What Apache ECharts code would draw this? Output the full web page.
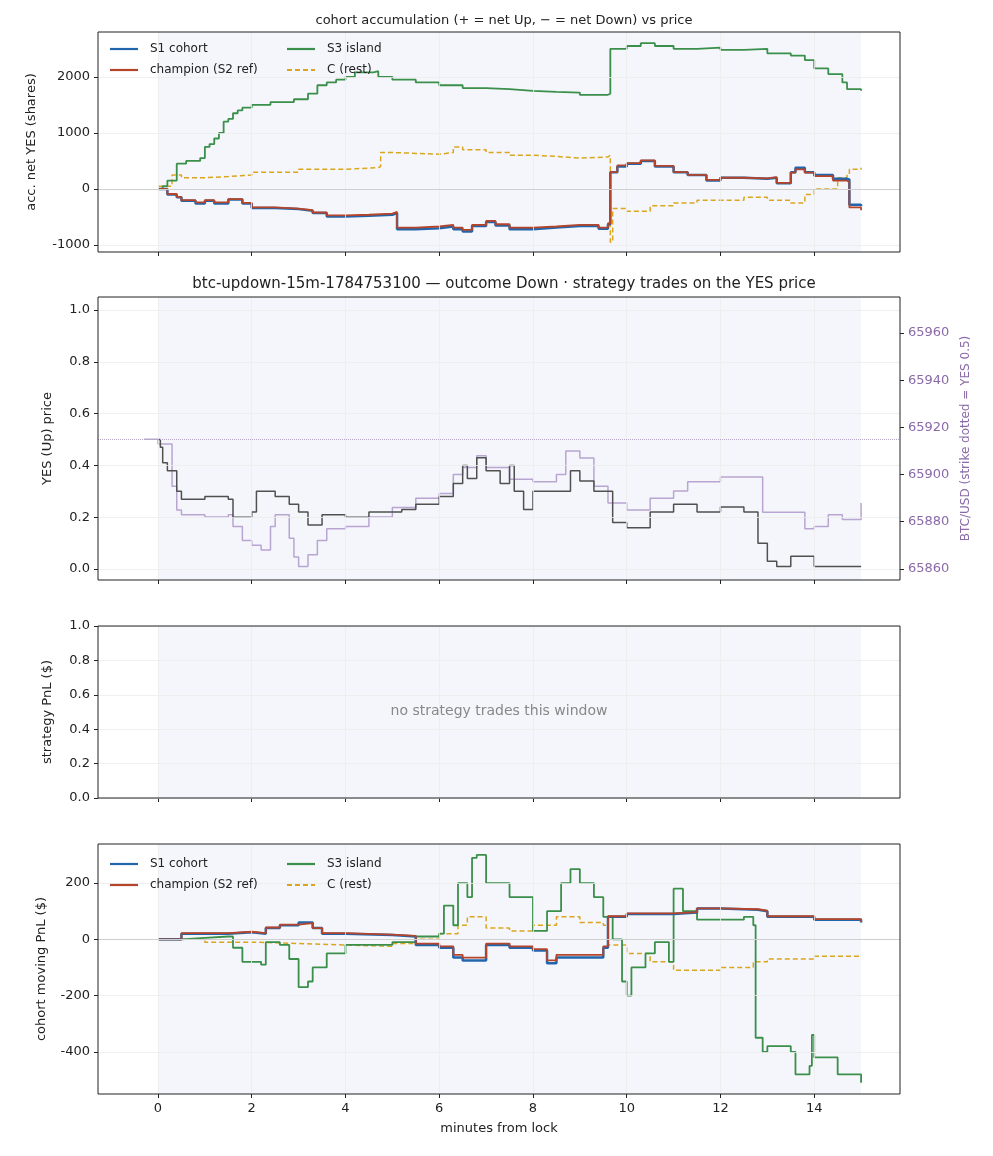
<!DOCTYPE html><html><head><meta charset="utf-8">
<script src="https://cdn.jsdelivr.net/npm/echarts@6/dist/echarts.min.js"></script>
<style>body{margin:0}#c{width:993px;height:1156px}</style></head><body><div id="c"></div>
<script>
const xTicks=[0,2,4,6,8,10,12,14];
const accS3=[[0,0],[0.1,50],[0.2,150],[0.4,450],[0.6,500],[0.9,550],[1.0,750],[1.1,800],[1.2,900],[1.3,1000],[1.4,1200],[1.5,1250],[1.6,1350],[1.7,1400],[1.8,1450],[2.0,1500],[2.4,1550],[2.9,1600],[3.2,1700],[3.4,1850],[3.6,1900],[3.8,1950],[4.0,2000],[4.2,2080],[4.6,2100],[4.7,2000],[5.0,1950],[5.5,1900],[6.0,1850],[6.5,1800],[7.0,1780],[7.5,1750],[8.0,1730],[8.5,1720],[9.0,1680],[9.6,1700],[9.65,2500],[10.0,2550],[10.3,2600],[10.6,2550],[11.0,2500],[11.5,2520],[12.0,2480],[12.5,2500],[13.0,2420],[13.5,2380],[13.8,2300],[14.0,2150],[14.3,2050],[14.6,1900],[14.7,1780],[15.0,1750]];
const accS1=[[0,0],[0.2,-100],[0.4,-150],[0.5,-210],[0.8,-260],[1.0,-210],[1.2,-260],[1.5,-190],[1.8,-260],[2.0,-340],[2.5,-360],[3.0,-390],[3.3,-430],[3.6,-490],[4.0,-480],[4.5,-460],[5.0,-430],[5.1,-720],[5.5,-700],[6.0,-670],[6.3,-720],[6.5,-760],[6.7,-660],[7.0,-590],[7.2,-650],[7.5,-720],[8.0,-690],[8.5,-660],[9.0,-660],[9.4,-710],[9.6,-630],[9.65,300],[9.8,400],[10.0,450],[10.3,500],[10.6,400],[11.0,300],[11.3,250],[11.7,150],[12.0,200],[12.5,180],[13.0,200],[13.2,100],[13.5,300],[13.6,380],[13.8,300],[14.0,250],[14.4,180],[14.7,170],[14.75,-280],[15.0,-310]];
const accChamp=[[0,0],[0.2,-90],[0.4,-140],[0.5,-200],[0.8,-240],[1.0,-200],[1.2,-240],[1.5,-180],[1.8,-250],[2.0,-330],[2.5,-350],[3.0,-380],[3.3,-420],[3.6,-470],[4.0,-460],[4.5,-440],[5.0,-410],[5.1,-690],[5.5,-670],[6.0,-640],[6.3,-690],[6.5,-730],[6.7,-640],[7.0,-570],[7.2,-630],[7.5,-690],[8.0,-670],[8.5,-640],[9.0,-640],[9.4,-690],[9.6,-610],[9.65,300],[9.8,420],[10.0,460],[10.3,510],[10.6,410],[11.0,300],[11.3,250],[11.7,160],[12.0,200],[12.5,190],[13.0,210],[13.2,110],[13.5,290],[13.6,350],[13.8,290],[14.0,230],[14.4,150],[14.7,120],[14.75,-330],[15.0,-380]];
const accC=[[0,50],[0.3,250],[0.5,200],[1.0,220],[1.5,250],[2.0,300],[3.0,350],[4.0,380],[4.7,400],[4.75,650],[5.0,620],[6.0,650],[6.3,750],[6.5,700],[7.0,650],[7.5,600],[8.0,580],[8.5,550],[9.0,570],[9.6,600],[9.65,-950],[9.7,-350],[10.0,-400],[10.5,-300],[11.0,-250],[11.5,-200],[12.0,-200],[12.5,-150],[13.0,-200],[13.5,-250],[13.8,-100],[14.0,0],[14.5,200],[14.7,250],[14.75,350],[15.0,380]];
const yesPrice=[[0,0.5],[0.05,0.47],[0.1,0.41],[0.2,0.38],[0.4,0.3],[0.5,0.27],[1.0,0.28],[1.5,0.27],[1.6,0.2],[2.0,0.22],[2.1,0.3],[2.5,0.28],[2.8,0.25],[3.0,0.22],[3.2,0.17],[3.5,0.21],[4.0,0.2],[4.5,0.22],[5.0,0.22],[5.2,0.23],[5.5,0.25],[6.0,0.28],[6.3,0.33],[6.5,0.4],[6.6,0.35],[6.8,0.43],[7.0,0.38],[7.3,0.33],[7.5,0.4],[7.6,0.3],[7.8,0.23],[8.0,0.3],[8.5,0.3],[8.8,0.38],[9.0,0.34],[9.3,0.3],[9.6,0.3],[9.7,0.18],[10.0,0.16],[10.5,0.22],[11.0,0.25],[11.5,0.22],[12.0,0.24],[12.5,0.22],[12.8,0.1],[13.0,0.03],[13.2,0.01],[13.5,0.05],[14.0,0.01],[15.0,0.01]];
const btc=[[-0.3,65915],[0,65913],[0.3,65895],[0.4,65885],[0.5,65883],[1.0,65882],[1.5,65883],[1.6,65878],[1.8,65872],[2.0,65870],[2.2,65868],[2.4,65878],[2.5,65883],[2.8,65873],[2.9,65865],[3.0,65861],[3.2,65866],[3.4,65872],[3.6,65877],[4.0,65878],[4.5,65882],[5.0,65886],[5.5,65890],[6.0,65892],[6.3,65900],[6.5,65903],[6.8,65908],[7.0,65903],[7.5,65898],[8.0,65897],[8.5,65900],[8.7,65910],[9.0,65907],[9.3,65895],[9.6,65888],[10.0,65885],[10.5,65890],[11.0,65893],[11.3,65897],[12.0,65899],[12.8,65899],[12.9,65884],[13.5,65884],[13.8,65877],[14.0,65878],[14.3,65883],[14.6,65881],[15.0,65888]];
const pnlS3=[[0,0],[0.5,5],[1.0,10],[1.5,10],[1.6,-30],[1.8,-80],[2.2,-90],[2.3,-10],[2.6,-20],[2.8,-70],[3.0,-170],[3.2,-150],[3.3,-100],[3.6,-50],[4.0,-20],[5.0,-10],[5.5,10],[6.0,20],[6.1,120],[6.3,50],[6.4,200],[6.6,150],[6.7,290],[6.8,300],[7.0,200],[7.5,150],[8.0,30],[8.3,100],[8.6,200],[8.8,250],[9.0,200],[9.3,150],[9.5,80],[9.7,0],[9.9,-150],[10.0,-200],[10.1,-100],[10.4,-50],[10.6,-10],[10.9,-80],[11.0,180],[11.2,100],[11.5,70],[12.0,70],[12.5,80],[12.7,50],[12.75,-350],[12.9,-400],[13.0,-380],[13.5,-400],[13.6,-480],[13.9,-450],[13.95,-340],[14.0,-420],[14.5,-480],[15.0,-510]];
const pnlS1=[[0,0],[0.5,20],[1.0,20],[1.5,25],[2.0,20],[2.3,40],[2.6,50],[3.0,60],[3.3,40],[3.5,20],[4.0,15],[5.0,10],[5.5,-20],[6.0,-30],[6.3,-65],[6.5,-75],[7.0,-20],[7.5,-30],[8.0,-40],[8.3,-85],[8.5,-65],[9.0,-65],[9.5,-30],[9.6,80],[10.0,90],[11.0,95],[11.5,110],[12.0,105],[12.8,100],[13.0,80],[14.0,70],[15.0,60]];
const pnlChamp=[[0,0],[0.5,22],[1.0,22],[1.5,27],[2.0,22],[2.3,42],[2.6,52],[3.0,58],[3.3,40],[3.5,22],[4.0,17],[5.0,12],[5.5,-15],[6.0,-25],[6.3,-55],[6.5,-65],[7.0,-15],[7.5,-25],[8.0,-35],[8.3,-75],[8.5,-55],[9.0,-55],[9.5,-25],[9.6,82],[10.0,92],[11.0,97],[11.5,110],[12.0,107],[12.8,102],[13.0,82],[14.0,72],[15.0,62]];
const pnlC=[[0,0],[1.0,-10],[2.0,-15],[3.0,-20],[4.0,-25],[5.0,-15],[5.5,0],[6.0,20],[6.4,50],[6.6,80],[7.0,40],[7.5,30],[8.0,50],[8.5,80],[9.0,60],[9.5,50],[9.6,-20],[10.0,-50],[10.5,-80],[11.0,-110],[12.0,-100],[12.7,-80],[13.0,-70],[14.0,-60],[15.0,-60]];
const y1Ticks=[-1000,0,1000,2000], y2Ticks=[0,0.2,0.4,0.6,0.8,1.0], yBtcTicks=[65860,65880,65900,65920,65940,65960], y4Ticks=[-400,-200,0,200];

const FF='DejaVu Sans';
const C={s1:'#2166ac',ch:'#b5452a',s3:'#3a8f4a',c:'#dca51e'};
const grids=[{top:32,height:220},{top:297,height:283},{top:626,height:172},{top:844,height:250}];
const fs=13, tc='#222';
const xAxis=grids.map((g,i)=>({type:'value',gridIndex:i,min:-1.28,max:15.83,
 axisLine:{onZero:false,show:false},splitLine:{show:false},
 axisTick:{show:true,customValues:xTicks,length:4,lineStyle:{color:'#222'}},
 axisLabel:{show:i===3,customValues:xTicks,fontSize:fs,color:tc,fontFamily:FF},
 name:i===3?'minutes from lock':'',nameLocation:'middle',nameGap:28,nameTextStyle:{fontSize:fs,color:tc,fontFamily:FF}}));
function yA(gi,min,max,ticks,name,fmt,extra){return Object.assign({type:'value',gridIndex:gi,min,max,
 axisLine:{show:false,onZero:false},splitLine:{show:false},
 axisTick:{show:true,customValues:ticks,length:4,lineStyle:{color:'#222'}},
 axisLabel:{customValues:ticks,fontSize:fs,color:tc,fontFamily:FF,formatter:fmt},
 name,nameLocation:'middle',nameGap:50,nameTextStyle:{fontSize:fs,color:tc,fontFamily:FF}},extra||{});}
const f0=v=>String(Math.round(v)), f1=v=>v.toFixed(1);
const yAxis=[yA(0,-1125,2800,y1Ticks,'acc. net YES (shares)',f0,{nameGap:60}),
 yA(1,-0.042,1.05,y2Ticks,'YES (Up) price',f1,{nameGap:44}),
 yA(1,65855.3,65975.3,yBtcTicks,'BTC/USD (strike dotted = YES 0.5)',f0,{position:'right',nameGap:60,
   axisLabel:{customValues:yBtcTicks,fontSize:fs,color:'#8a6aa8',fontFamily:FF,formatter:f0},nameTextStyle:{fontSize:12,color:'#8a6aa8',fontFamily:FF}}),
 yA(2,0,1,y2Ticks,'strategy PnL ($)',f1,{nameGap:44}),
 yA(3,-550,339,y4Ticks,'cohort moving PnL ($)',f0,{nameGap:50})];
const yIdx=[0,1,3,4];
const series=[];
const gridYs=[y1Ticks,y2Ticks,y2Ticks,y4Ticks];
grids.forEach((g,i)=>{
 const ml=xTicks.map(v=>({xAxis:v})).concat(gridYs[i].map(v=>({yAxis:v})));
 const extra=[];
 if(i===0||i===3) extra.push({yAxis:0,lineStyle:{color:'#cfcfcf',width:1,type:'solid'}});
 series.push({type:'line',xAxisIndex:i,yAxisIndex:yIdx[i],data:[],silent:true,z:0,
  markArea:{silent:true,itemStyle:{color:'#f4f6fb'},data:[[{xAxis:0},{xAxis:15}]]},
  markLine:{silent:true,symbol:'none',label:{show:false},lineStyle:{color:'#ececec',width:0.8,type:'solid'},data:ml.concat(extra)}});
});
function ln(data,xi,yi,color,w,dash,z){return {type:'line',step:'end',data,xAxisIndex:xi,yAxisIndex:yi,showSymbol:false,symbol:'none',z:z||2,
 lineStyle:{color,width:w,type:dash?[5,3]:'solid'},silent:true};}
series.push(ln(accC,0,0,C.c,1.5,true),ln(accS3,0,0,C.s3,1.8),ln(accS1,0,0,C.s1,2.5),ln(accChamp,0,0,C.ch,1.8,false,3));
series.push(ln(btc,1,2,'#b9a5d2',1.5),ln(yesPrice,1,1,'#505050',1.5,false,3));
series.push({type:'line',xAxisIndex:1,yAxisIndex:1,data:[],markLine:{silent:true,symbol:'none',label:{show:false},
 lineStyle:{color:'#b8a8c8',width:1,type:'dotted'},data:[{yAxis:0.5}]}});
series.push(ln(pnlC,3,4,C.c,1.5,true),ln(pnlS3,3,4,C.s3,1.8),ln(pnlS1,3,4,C.s1,2.5),ln(pnlChamp,3,4,C.ch,1.8,false,3));
function legend(y0){const items=[['S1 cohort',C.s1,110,y0,false],['champion (S2 ref)',C.ch,110,y0+21,false],['S3 island',C.s3,287,y0,false],['C (rest)',C.c,287,y0+21,true]];
 const out=[];items.forEach(([t,c,x,y,d])=>{out.push({type:'line',z:100,shape:{x1:x,y1:y,x2:x+28,y2:y},style:{stroke:c,lineWidth:2.2,lineDash:d?[5,3]:null}});
 out.push({type:'text',z:100,x:x+40,y:y,style:{text:t,fontSize:12,fontFamily:FF,fill:'#222',textVerticalAlign:'middle'}});});return out;}
const boxes=grids.map(g=>({type:'rect',z:100,shape:{x:98,y:g.top,width:802,height:g.height},style:{fill:null,stroke:'#222',lineWidth:1}}));
const opt={animation:false,backgroundColor:'#fff',textStyle:{fontFamily:FF},
 grid:grids.map(g=>({left:98,right:93,top:g.top,height:g.height})),xAxis,yAxis,series,
 title:[{text:'cohort accumulation (+ = net Up, − = net Down) vs price',left:499,textAlign:'center',top:9,textStyle:{fontSize:13,fontWeight:'normal',color:'#222',fontFamily:FF}},
  {text:'btc-updown-15m-1784753100 — outcome Down · strategy trades on the YES price',left:499,textAlign:'center',top:272,textStyle:{fontSize:15,fontWeight:'normal',color:'#222',fontFamily:FF}}],
 graphic:[...boxes,...legend(49),...legend(864),
  {type:'text',z:100,x:499,y:711,style:{text:'no strategy trades this window',fontSize:14,fontFamily:FF,fill:'#888',textAlign:'center',textVerticalAlign:'middle'}}]};
echarts.init(document.getElementById('c')).setOption(opt);
</script></body></html>
